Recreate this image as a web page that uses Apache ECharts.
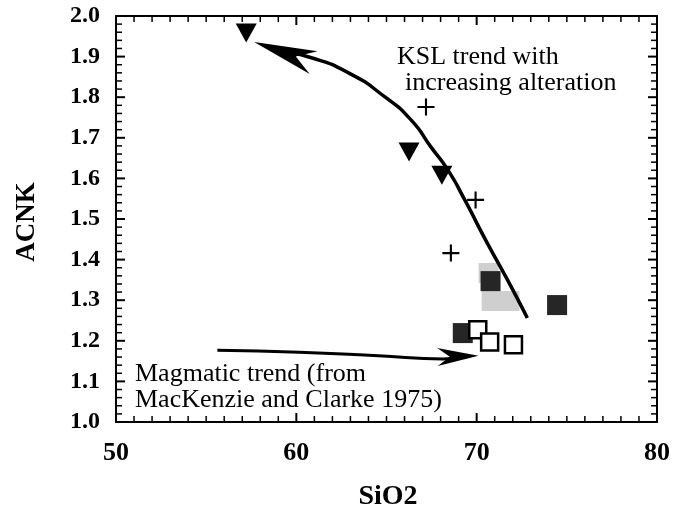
<!DOCTYPE html>
<html>
<head>
<meta charset="utf-8">
<script src="https://cdn.jsdelivr.net/npm/echarts@6/dist/echarts.min.js"></script>
<style>
  html, body { margin: 0; padding: 0; background: #fff; }
  #chart { width: 673px; height: 519px; }
</style>
</head>
<body>
<div id="chart"></div>
<script>
// SiO2 vs ACNK samples
const triangles = [[57.22, 1.958], [66.25, 1.665], [68.07, 1.608]];
const crosses = [[67.19, 1.776], [69.94, 1.547], [68.57, 1.416]];
const lightSquares = [[70.66, 1.367], [70.83, 1.298], [71.82, 1.298]];
const darkSquares = [[70.77, 1.347], [74.46, 1.288], [69.23, 1.219]];
const openSquares = [[70.06, 1.227], [70.72, 1.197], [72.04, 1.190]];

// trend curves
const kslTrend = [
  [59.04, 1.914], [60.69, 1.899], [62.89, 1.860], [64.93, 1.800],
  [66.36, 1.744], [67.47, 1.677], [68.40, 1.621], [69.34, 1.547],
  [70.50, 1.448], [71.71, 1.350], [72.81, 1.256]
];
const magmaticTrend = [
  [55.62, 1.177], [60.14, 1.172], [64.55, 1.163], [68.13, 1.155], [68.95, 1.160]
];
// arrow heads: tip x, tip y, point back along the shaft x, y
const arrowHeads = [[57.66, 1.936, 60.96, 1.885], [70.1, 1.163, 67.8, 1.160]];
const headSize = [{ len: 63, half: 12 }, { len: 41, half: 9 }];

const xTicks = [50, 60, 70, 80];
const yRange = [1.0, 2.0];

const serif = '"Liberation Serif", "Times New Roman", serif';

// tick positions: minor every 1 on x, every 0.02 on y
const xMin = xTicks[0], xMax = xTicks[xTicks.length - 1];
const xMajor = [], xMinor = [], yMajor = [], yMinor = [];
for (let i = 0; i <= 30; i++) (i % 10 === 0 ? xMajor : xMinor).push(xMin + i);
for (let i = 0; i <= 50; i++) (i % 5 === 0 ? yMajor : yMinor).push(+(yRange[0] + i * 0.02).toFixed(2));

function tickSeries(vals, side, major) {
  const len = major ? 9 : 6, w = major ? 2 : 1.5;
  let data, size, offset;
  if (side === 'bottom' || side === 'top') {
    const y = side === 'bottom' ? yRange[0] : yRange[1];
    data = vals.map(v => [v, y]);
    size = [w, len];
    offset = [0, side === 'bottom' ? -len / 2 : len / 2];
  } else {
    const x = side === 'left' ? xMin : xMax;
    data = vals.map(v => [x, v]);
    size = [len, w];
    offset = [side === 'left' ? len / 2 : -len / 2, 0];
  }
  return {
    type: 'scatter', data: data, symbol: 'rect', symbolSize: size, symbolOffset: offset,
    clip: false, silent: true, z: 5,
    itemStyle: { color: '#000', opacity: 1 }
  };
}

const chart = echarts.init(document.getElementById('chart'));

function xAx(pos, labels) {
  return {
    type: 'value', position: pos, min: xMin, max: xMax, interval: 10,
    splitLine: { show: false },
    axisLine: { show: true, lineStyle: { color: '#000', width: 2 } },
    axisTick: { show: false },
    axisLabel: labels ? { show: true, color: '#000', fontFamily: serif, fontWeight: 'bold', fontSize: 26, margin: 18 } : { show: false }
  };
}
function yAx(pos, labels) {
  return {
    type: 'value', position: pos, min: yRange[0], max: yRange[1], interval: 0.1,
    splitLine: { show: false },
    axisLine: { show: true, lineStyle: { color: '#000', width: 2 } },
    axisTick: { show: false },
    axisLabel: labels ? { show: true, color: '#000', fontFamily: serif, fontWeight: 'bold', fontSize: 24, margin: 16, formatter: v => v.toFixed(1) } : { show: false }
  };
}

function renderHead(params, api) {
  const tip = api.coord([api.value(0), api.value(1)]);
  const back = api.coord([api.value(2), api.value(3)]);
  const s = headSize[params.dataIndex];
  let ux = back[0] - tip[0], uy = back[1] - tip[1];
  const d = Math.sqrt(ux * ux + uy * uy);
  ux /= d; uy /= d;
  const nx = -uy, ny = ux;
  const pts = [
    tip,
    [tip[0] + ux * s.len + nx * s.half, tip[1] + uy * s.len + ny * s.half],
    [tip[0] + ux * s.len * 0.7, tip[1] + uy * s.len * 0.7],
    [tip[0] + ux * s.len - nx * s.half, tip[1] + uy * s.len - ny * s.half]
  ];
  return { type: 'polygon', shape: { points: pts }, style: { fill: '#000' } };
}

const option = {
  animation: false,
  grid: { left: 116, right: 12, top: 16, bottom: 97 },
  xAxis: [xAx('bottom', true), xAx('top', false)],
  yAxis: [yAx('left', true), yAx('right', false)],
  graphic: [
    { type: 'text', left: 397, top: 44, style: { text: 'KSL trend with', font: '26px ' + serif, fill: '#000' } },
    { type: 'text', left: 405, top: 70, style: { text: 'increasing alteration', font: '26px ' + serif, fill: '#000' } },
    { type: 'text', left: 135, top: 361, style: { text: 'Magmatic trend (from', font: '26px ' + serif, fill: '#000' } },
    { type: 'text', left: 135, top: 387, style: { text: 'MacKenzie and Clarke 1975)', font: '26px ' + serif, fill: '#000' } },
    { type: 'text', x: 388, y: 497, style: { text: 'SiO2', font: 'bold 28px ' + serif, fill: '#000', textAlign: 'center', textVerticalAlign: 'middle' } },
    { type: 'text', x: 27, y: 222, rotation: Math.PI / 2, style: { text: 'ACNK', font: 'bold 27px ' + serif, fill: '#000', textAlign: 'center', textVerticalAlign: 'middle' } }
  ],
  series: [
    tickSeries(xMajor, 'bottom', true), tickSeries(xMinor, 'bottom', false),
    tickSeries(xMajor, 'top', true), tickSeries(xMinor, 'top', false),
    tickSeries(yMajor, 'left', true), tickSeries(yMinor, 'left', false),
    tickSeries(yMajor, 'right', true), tickSeries(yMinor, 'right', false),
    {
      type: 'scatter', data: lightSquares, symbol: 'rect', symbolSize: 20,
      itemStyle: { color: '#cfcfcf', opacity: 1 }
    },
    {
      type: 'scatter', data: darkSquares, symbol: 'rect', symbolSize: 20,
      itemStyle: { color: '#262626', opacity: 1 }
    },
    {
      type: 'scatter', data: openSquares, symbol: 'rect', symbolSize: 17,
      itemStyle: { color: '#fff', borderColor: '#000', borderWidth: 2.5, opacity: 1 }
    },
    {
      type: 'scatter', data: triangles, symbol: 'triangle', symbolRotate: 180, symbolSize: [21, 19],
      itemStyle: { color: '#000', opacity: 1 }
    },
    {
      type: 'scatter', data: crosses, symbolSize: 17,
      symbol: 'path://M10.5,0h3v10.5h10.5v3h-10.5v10.5h-3v-10.5h-10.5v-3h10.5z',
      itemStyle: { color: '#000', opacity: 1 }
    },
    {
      type: 'line', data: kslTrend, smooth: 0.6, symbol: 'none',
      lineStyle: { color: '#000', width: 3.5 }
    },
    {
      type: 'line', data: magmaticTrend, smooth: 0.5, symbol: 'none',
      lineStyle: { color: '#000', width: 3 }
    },
    {
      type: 'custom', data: arrowHeads, renderItem: renderHead, clip: false,
      encode: { x: [0, 2], y: [1, 3] }
    }
  ]
};

chart.setOption(option);
</script>
</body>
</html>
